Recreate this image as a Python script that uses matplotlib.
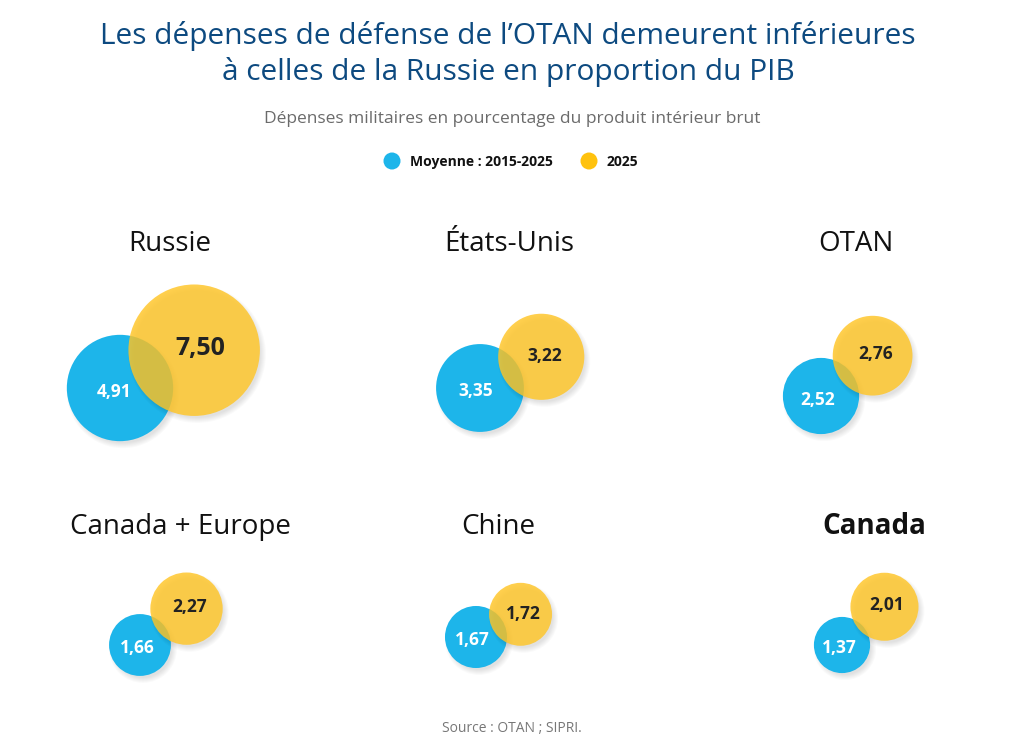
import math
import matplotlib
matplotlib.use("Agg")
import matplotlib.pyplot as plt
from matplotlib.patches import Circle

# data
countries = ["Russie", "États-Unis", "OTAN", "Canada + Europe", "Chine", "Canada"]
avg_2015_2025 = [4.91, 3.35, 2.52, 1.66, 1.67, 1.37]
val_2025 = [7.50, 3.22, 2.76, 2.27, 1.72, 2.01]

BLUE = "#1DB5EA"
YELLOW = "#FFC526"
LEGEND_YELLOW = "#FFC20E"
TITLE_BLUE = "#0D4A80"
FONT = ["Open Sans", "DejaVu Sans"]

# layout (pixels): title position, blue centre, angle to yellow, overlap factor
title_pos = [(170, 244), (509, 244), (856, 244), (180, 527), (498, 527), (874, 527)]
blue_pos = [(120, 388), (480, 388), (821, 396), (140, 645), (476, 637), (842, 645)]
angles = [27, 27, 38, 38, 27, 42]
overlap = [0.70, 0.79, 0.84, 0.88, 0.80, 0.92]
K = 24.0  # radius = K * sqrt(value)

fig = plt.figure(figsize=(10.24, 7.45), dpi=100)
ax = fig.add_axes([0, 0, 1, 1])
ax.set_xlim(0, 1024)
ax.set_ylim(745, 0)
ax.axis("off")


def bubble(x, y, r, color, alpha, z):
    # soft drop shadow
    for k in range(6):
        ax.add_patch(Circle((x + 3, y + 4), r + 3 - k, color="#000000",
                            alpha=0.018, lw=0, zorder=z - 0.5))
    ax.add_patch(Circle((x, y), r, color=color, alpha=alpha, lw=0, zorder=z))


for i, name in enumerate(countries):
    tx, ty = title_pos[i]
    ax.text(tx, ty, name, ha="center", va="center", fontsize=20,
            family=FONT, color="#111111",
            fontweight="bold" if name == "Canada" else "normal")

    rb = K * math.sqrt(avg_2015_2025[i])
    ry = K * math.sqrt(val_2025[i])
    bx, by = blue_pos[i]
    ang = math.radians(angles[i])
    d = overlap[i] * (rb + ry)
    yx = bx + d * math.cos(ang)
    yy = by - d * math.sin(ang)

    bubble(bx, by, rb, BLUE, 1.0, 2)
    bubble(yx, yy, ry, YELLOW, 0.82, 4)

    big = val_2025[i] > 5
    ux, uy = math.cos(ang), -math.sin(ang)
    ax.text(bx - 0.12 * rb * ux, by - 0.12 * rb * uy + 1,
            f"{avg_2015_2025[i]:.2f}".replace(".", ","),
            ha="center", va="center", fontsize=12.5, fontweight="bold",
            family=FONT, color="white", zorder=6)
    ax.text(yx + 0.1 * ry * ux, yy + 0.1 * ry * uy + 1,
            f"{val_2025[i]:.2f}".replace(".", ","),
            ha="center", va="center", fontsize=18 if big else 12.5,
            fontweight="bold", family=FONT, color="#222222", zorder=6)

# titles
ax.text(508, 54, "Les dépenses de défense de l’OTAN demeurent inférieures\n"
        "à celles de la Russie en proportion du PIB",
        ha="center", va="center", fontsize=21.5, color=TITLE_BLUE,
        family=FONT, linespacing=1.25)
ax.text(512, 119, "Dépenses militaires en pourcentage du produit intérieur brut",
        ha="center", va="center", fontsize=12.5, color="#6b6b6b", family=FONT)

# legend
ax.add_patch(Circle((392, 161), 8.5, color=BLUE, lw=0))
ax.text(410, 166, "Moyenne : 2015-2025", ha="left", va="baseline",
        fontsize=10, fontweight="bold", family=FONT, color="#111111")
ax.add_patch(Circle((589, 161), 8.5, color=LEGEND_YELLOW, lw=0))
ax.text(607, 166, "2025", ha="left", va="baseline",
        fontsize=10, fontweight="bold", family=FONT, color="#111111")

ax.text(512, 729, "Source : OTAN ; SIPRI.", ha="center", va="center",
        fontsize=10, color="#777777", family=FONT)

fig.savefig("out.png", dpi=100, facecolor="white")
